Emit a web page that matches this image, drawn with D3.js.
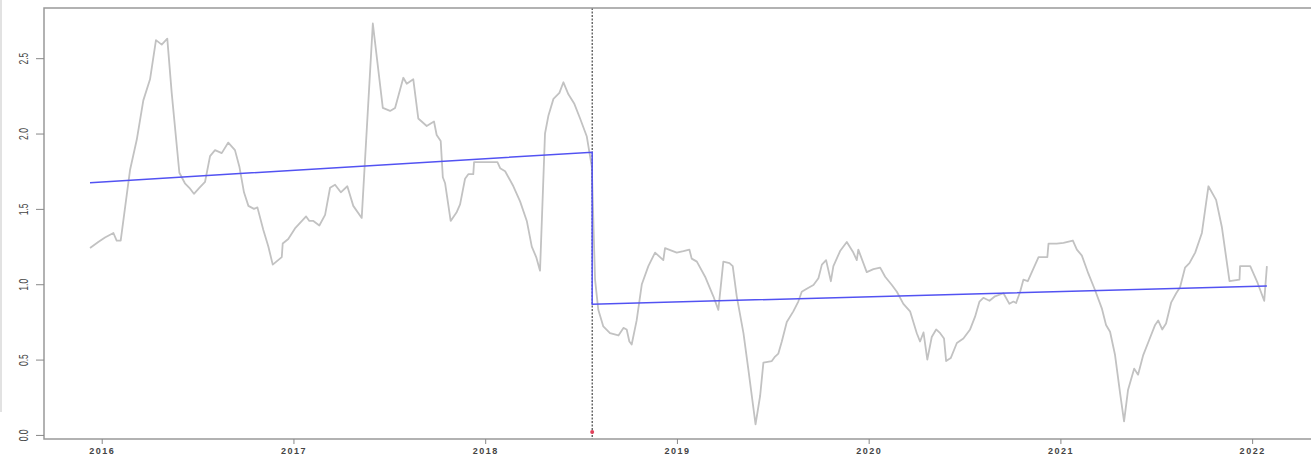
<!DOCTYPE html>
<html>
<head>
<meta charset="utf-8">
<script src="https://cdn.jsdelivr.net/npm/d3@7"></script>
<style>
  body { margin: 0; background: #fff; }
  svg { display: block; }
  text { font-family: "Liberation Sans", Arial, sans-serif; fill: #333; }
</style>
</head>
<body>
<div id="chart"></div>
<script>
// series (decimal years)
var years = [2015.939, 2015.982, 2016.017, 2016.061, 2016.078, 2016.099, 2016.148, 2016.183, 2016.217, 2016.252,
  2016.283, 2016.313, 2016.342, 2016.365, 2016.405, 2016.434, 2016.457, 2016.481, 2016.509, 2016.539,
  2016.565, 2016.591, 2016.626, 2016.660, 2016.695, 2016.718, 2016.742, 2016.765, 2016.794, 2016.812,
  2016.843, 2016.869, 2016.892, 2016.939, 2016.944, 2016.973, 2017.008, 2017.066, 2017.083, 2017.104,
  2017.135, 2017.165, 2017.191, 2017.217, 2017.247, 2017.281, 2017.312, 2017.356, 2017.414, 2017.466,
  2017.504, 2017.530, 2017.573, 2017.591, 2017.625, 2017.651, 2017.695, 2017.733, 2017.747, 2017.768,
  2017.779, 2017.791, 2017.820, 2017.852, 2017.869, 2017.895, 2017.912, 2017.938, 2017.942, 2018.064,
  2018.078, 2018.104, 2018.147, 2018.182, 2018.217, 2018.243, 2018.266, 2018.286, 2018.312, 2018.330,
  2018.356, 2018.387, 2018.408, 2018.434, 2018.464, 2018.495, 2018.530, 2018.556, 2018.573, 2018.590,
  2018.616, 2018.651, 2018.695, 2018.721, 2018.738, 2018.752, 2018.764, 2018.790, 2018.817, 2018.851,
  2018.886, 2018.929, 2018.938, 2018.999, 2019.034, 2019.065, 2019.077, 2019.104, 2019.147, 2019.190,
  2019.216, 2019.242, 2019.274, 2019.291, 2019.312, 2019.347, 2019.373, 2019.410, 2019.434, 2019.451,
  2019.495, 2019.512, 2019.529, 2019.547, 2019.573, 2019.607, 2019.633, 2019.651, 2019.677, 2019.712,
  2019.738, 2019.756, 2019.778, 2019.803, 2019.816, 2019.851, 2019.886, 2019.920, 2019.938, 2019.946,
  2019.990, 2020.025, 2020.060, 2020.086, 2020.121, 2020.147, 2020.181, 2020.216, 2020.251, 2020.268,
  2020.286, 2020.306, 2020.329, 2020.352, 2020.373, 2020.393, 2020.404, 2020.428, 2020.460, 2020.494,
  2020.529, 2020.555, 2020.578, 2020.598, 2020.630, 2020.659, 2020.703, 2020.734, 2020.755, 2020.769,
  2020.790, 2020.807, 2020.830, 2020.851, 2020.886, 2020.932, 2020.938, 2020.981, 2021.016, 2021.065,
  2021.086, 2021.112, 2021.146, 2021.181, 2021.216, 2021.238, 2021.259, 2021.285, 2021.312, 2021.332,
  2021.353, 2021.385, 2021.405, 2021.432, 2021.463, 2021.494, 2021.510, 2021.531, 2021.551, 2021.578,
  2021.604, 2021.624, 2021.650, 2021.673, 2021.703, 2021.738, 2021.772, 2021.812, 2021.842, 2021.882,
  2021.934, 2021.937, 2021.990, 2022.028, 2022.063, 2022.077]
var values = [1.24, 1.28, 1.31, 1.34, 1.29, 1.29, 1.76, 1.96, 2.22, 2.36,
  2.62, 2.59, 2.63, 2.27, 1.74, 1.67, 1.64, 1.60, 1.64, 1.68,
  1.85, 1.89, 1.87, 1.94, 1.89, 1.78, 1.61, 1.52, 1.50, 1.51,
  1.36, 1.25, 1.13, 1.18, 1.27, 1.30, 1.37, 1.45, 1.42, 1.42,
  1.39, 1.46, 1.64, 1.66, 1.61, 1.65, 1.52, 1.44, 2.73, 2.17,
  2.15, 2.17, 2.37, 2.33, 2.36, 2.10, 2.05, 2.08, 1.99, 1.95,
  1.71, 1.67, 1.42, 1.48, 1.53, 1.70, 1.73, 1.73, 1.81, 1.81,
  1.77, 1.75, 1.65, 1.55, 1.42, 1.25, 1.18, 1.09, 2.00, 2.12,
  2.23, 2.27, 2.34, 2.26, 2.20, 2.10, 1.98, 1.78, 1.03, 0.83,
  0.72, 0.675, 0.66, 0.71, 0.70, 0.62, 0.60, 0.76, 1.00, 1.12,
  1.21, 1.16, 1.24, 1.21, 1.22, 1.23, 1.17, 1.15, 1.05, 0.92,
  0.83, 1.15, 1.14, 1.12, 0.92, 0.675, 0.43, 0.07, 0.26, 0.48,
  0.49, 0.52, 0.54, 0.62, 0.75, 0.82, 0.885, 0.95, 0.97, 0.995,
  1.04, 1.13, 1.16, 1.02, 1.12, 1.22, 1.28, 1.21, 1.16, 1.23,
  1.08, 1.10, 1.11, 1.05, 0.995, 0.95, 0.87, 0.82, 0.675, 0.62,
  0.68, 0.50, 0.65, 0.70, 0.675, 0.64, 0.49, 0.51, 0.61, 0.64,
  0.70, 0.785, 0.885, 0.91, 0.89, 0.92, 0.94, 0.87, 0.885, 0.875,
  0.95, 1.03, 1.02, 1.08, 1.18, 1.18, 1.27, 1.27, 1.275, 1.29,
  1.23, 1.19, 1.07, 0.96, 0.84, 0.73, 0.685, 0.53, 0.27, 0.09,
  0.30, 0.44, 0.40, 0.53, 0.63, 0.73, 0.76, 0.70, 0.74, 0.88,
  0.94, 0.98, 1.11, 1.14, 1.21, 1.34, 1.65, 1.56, 1.38, 1.02,
  1.03, 1.12, 1.12, 1.01, 0.89, 1.12]

// fitted trend with one break
var trendYears = [2015.939, 2018.558, 2018.558, 2022.077]
var trendValues = [1.674, 1.876, 0.867, 0.989]
var breakYear = 2018.558
var breakMark = 0.02

var xTicks = [2016, 2017, 2018, 2019, 2020, 2021, 2022]
var yTicks = [0, 0.5, 1, 1.5, 2, 2.5]
var yTickLabels = ["0.0", "0.5", "1.0", "1.5", "2.0", "2.5"]

var width = 1311, height = 455
var plotLeft = 44, plotTop = 8, plotRight = 1311, plotBottom = 439

var x = d3.scaleLinear().domain([2015.699, 2022.307]).range([plotLeft, plotRight])
var y = d3.scaleLinear().domain([-0.027, 2.833]).range([plotBottom, plotTop])

var svg = d3.select("#chart").append("svg")
    .attr("width", width)
    .attr("height", height)

// faint edge at far left of the original image
svg.append("line")
    .attr("x1", 1).attr("x2", 1).attr("y1", 0).attr("y2", 412)
    .style("stroke", "#e2e2e2").style("stroke-width", 2)

// series
var pts = years.map(function(d, i) { return [d, values[i]] })
svg.append("path")
    .datum(pts)
    .attr("d", d3.line().x(function(d) { return x(d[0]) }).y(function(d) { return y(d[1]) }))
    .style("fill", "none")
    .style("stroke", "#c2c2c2")
    .style("stroke-width", 1.8)
    .style("stroke-linejoin", "round")

// break line
svg.append("line")
    .attr("x1", x(breakYear)).attr("x2", x(breakYear))
    .attr("y1", plotTop).attr("y2", plotBottom)
    .style("stroke", "#222")
    .style("stroke-width", 1)
    .style("stroke-dasharray", "2,1.5")

// trend
var tpts = trendYears.map(function(d, i) { return [d, trendValues[i]] })
svg.append("path")
    .datum(tpts)
    .attr("d", d3.line().x(function(d) { return x(d[0]) }).y(function(d) { return y(d[1]) }))
    .style("fill", "none")
    .style("stroke", "#5252f2")
    .style("stroke-width", 1.5)

svg.append("circle")
    .attr("cx", x(breakYear)).attr("cy", y(breakMark))
    .attr("r", 2)
    .style("fill", "#e0405a")

// box
svg.append("rect")
    .attr("x", plotLeft).attr("y", plotTop)
    .attr("width", plotRight - plotLeft + 2).attr("height", plotBottom - plotTop)
    .style("fill", "none")
    .style("stroke", "#999")
    .style("stroke-width", 1.5)

// x axis
var xAxis = svg.append("g")
    .attr("transform", "translate(0," + plotBottom + ")")
    .call(d3.axisBottom(x).tickValues(xTicks).tickFormat(d3.format("d")).tickSize(5).tickPadding(4))
xAxis.select(".domain").remove()
xAxis.selectAll("line").style("stroke", "#888")
xAxis.selectAll("text")
    .style("font-size", "9px")
    .style("font-weight", "bold")
    .style("letter-spacing", "1.5px")
    .style("fill", "#444")

// y axis
var yAxis = svg.append("g")
    .attr("transform", "translate(" + plotLeft + ",0)")
    .call(d3.axisLeft(y).tickValues(yTicks).tickFormat(function(d, i) { return yTickLabels[i] }).tickSize(8))
yAxis.select(".domain").remove()
yAxis.selectAll("line").style("stroke", "#888")
yAxis.selectAll("text")
    .attr("x", null).attr("dy", null)
    .attr("text-anchor", "middle")
    .attr("transform", "translate(-20,0) rotate(-90) scale(1,1.5)")
    .attr("dy", "0.32em")
    .style("font-size", "8.5px")
    .style("fill", "#444")
</script>
</body>
</html>
